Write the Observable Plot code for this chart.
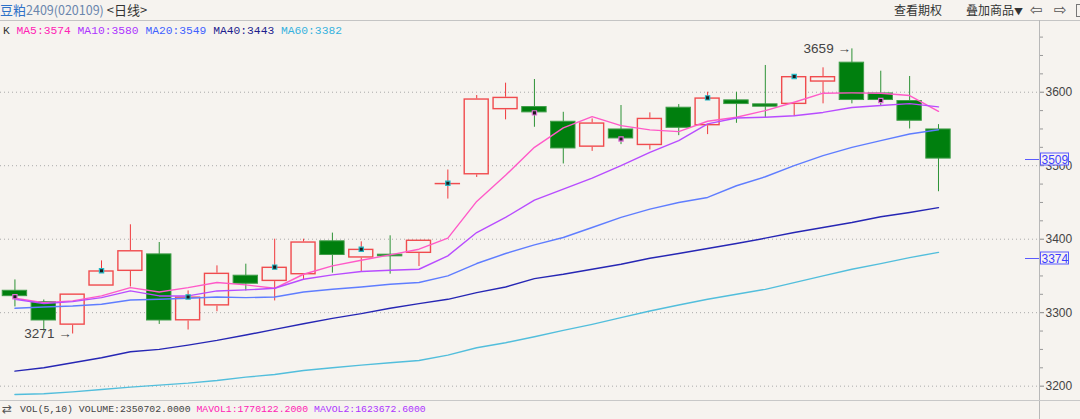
<!DOCTYPE html>
<html><head><meta charset="utf-8">
<script src="https://cdn.jsdelivr.net/npm/d3@7"></script>
<script src="https://cdn.jsdelivr.net/npm/@observablehq/plot@0.6"></script>
<style>
html,body{margin:0;padding:0;background:#f6f3ef;}
#wrap{position:relative;width:1080px;height:419px;overflow:hidden;background:#f6f3ef;}
#hdr{position:absolute;left:0;top:0;width:1080px;height:21px;border-bottom:1px solid #c4c4c4;box-sizing:border-box;}
#title{position:absolute;left:0;top:1px;font-family:"Noto Sans CJK SC";font-size:13px;line-height:18px;white-space:nowrap;}
.tool{position:absolute;top:1px;font-family:"Noto Sans CJK SC";font-size:12px;line-height:18px;color:#333;white-space:nowrap;}
.arrow{position:absolute;top:1px;font-family:"DejaVu Sans";font-size:15px;line-height:18px;color:#555;}
#chart{position:absolute;left:0;top:20px;}
#legend{position:absolute;left:3px;top:24px;font-family:"Liberation Mono";font-size:11.3px;line-height:14px;white-space:pre;}
#vaxis{position:absolute;left:1039px;top:20px;width:1px;height:399px;background:#b8b8b8;}
#ftr{position:absolute;left:0;top:400px;width:1080px;height:19px;border-top:1px solid #c8c8c8;box-sizing:border-box;}
#vol{position:absolute;left:20px;top:403px;font-family:"Liberation Mono";font-size:9.8px;line-height:14px;white-space:pre;color:#444;}
#volicon{position:absolute;left:2px;top:401px;font-family:"DejaVu Sans";font-size:12px;line-height:16px;color:#555;}
</style></head>
<body>
<div id="wrap">
  <div id="hdr"></div>
  <div id="title"></div>
  <div class="tool" style="left:894px">查看期权</div>
  <div class="tool" style="left:966px">叠加商品<span style="font-size:9px">▼</span></div>
  <div class="arrow" style="left:1030px">⇦</div>
  <div class="arrow" style="left:1054px">⇨</div>
  <div style="position:absolute;left:1076px;top:4px;width:8px;height:11px;border:1px solid #777;"></div>
  <div id="chart"></div>
  <div id="vaxis"></div>
  <div id="legend"></div>
  <div id="ftr"></div>
  <div id="volicon">⇄</div>
  <div id="vol"></div>
</div>
<script>
// ---------- data ----------
const titleName = "豆粕";
const titleCode = "2409(020109)";
const titlePeriod = "<日线>";

const open  = [3330.5,3315,3282.8,3336,3356,3380,3288.7,3309,3351,3342.3,3351.4,3397.8,3374.2,3379.6,3380.5,3474,3487.4,3576,3580.5,3560.5,3525,3550,3527.3,3579.6,3554.2,3589.6,3584.2,3583.2,3613.6,3640.9,3599,3588.7,3550];
const high  = [3344.6,3317.3,3325.5,3370.5,3419.6,3395.5,3329.6,3363.7,3366,3400,3400,3408.3,3396.4,3404.6,3398.8,3494.2,3595.5,3612.3,3617.3,3572.7,3563.7,3581.9,3571.9,3583.2,3600,3600,3636.4,3621.4,3633.2,3659,3628.6,3621.4,3555.9];
const low   = [3307.8,3275,3271,3336,3335,3284,3276.4,3301.3,3329.6,3316,3344.6,3353.8,3355.9,3352.4,3362.8,3454.6,3484,3562.4,3552.3,3502.4,3519.5,3528.7,3521.4,3540.9,3542.3,3557.7,3565,3566.9,3584.2,3584.2,3580.5,3550,3464.6];
const close = [3321.8,3288.7,3325.5,3357,3384.5,3288.7,3321.4,3353.8,3338.7,3362,3396.4,3377.8,3386.4,3376,3398.8,3476,3591,3593.2,3571.9,3522.8,3558.3,3536.4,3564.6,3550.9,3592.3,3583.2,3579.6,3621.4,3621.4,3588.7,3588.7,3560.5,3509];

const ma5  = [3319.6,3313.7,3316,3322.8,3334.1,3328.2,3334.1,3341,3337.8,3333.2,3352.3,3363.7,3371.4,3378.7,3386.4,3401.4,3451.4,3487,3525,3551.4,3566.8,3554.6,3548.7,3546.4,3560.5,3566,3575,3586.4,3598.7,3599.1,3598.7,3595.5,3574];
const ma10 = [3318.2,3312.3,3315,3320.5,3329.6,3322.8,3322.8,3329.6,3331,3333.2,3345.5,3351.4,3356,3357.8,3359.1,3377.3,3409.1,3429.6,3453.2,3468.2,3483.2,3500,3518.2,3534.1,3557,3565,3566,3568,3572.5,3579.2,3582,3584.5,3580];
const ma20 = [3306,3307.8,3309.1,3311.4,3317.3,3318.2,3319.6,3321.4,3320.5,3321.4,3328.2,3331.9,3335,3338.7,3341,3350,3366.9,3380.5,3392.3,3402.3,3415.9,3429.6,3440.9,3450,3456.8,3472.7,3485,3500,3513.7,3525,3534.1,3543.2,3549];
const ma40 = [3220.5,3225,3231.8,3238.7,3246.8,3250,3255.9,3262.3,3269.6,3277.3,3285,3292.3,3298.7,3306,3312.3,3318.2,3327.3,3335,3346.4,3352.3,3359.1,3365.9,3374.1,3380.5,3387.3,3394.1,3401.4,3409.1,3415.9,3422.7,3430.5,3436.4,3443];
const ma60 = [3188.7,3189.6,3192.3,3195.5,3198.7,3201.4,3204.1,3207.7,3212.3,3215.9,3221.4,3225,3228.7,3231.8,3235,3242.3,3252.3,3259.1,3267.3,3275.9,3284.1,3293.2,3302.3,3310.5,3318.2,3325,3331.8,3340.9,3350,3359.1,3366.8,3375,3382];

const maNames = ["MA5","MA10","MA20","MA40","MA60"];
const maLast  = [3574,3580,3549,3443,3382];

const signalUp   = [3,6,9,12,15,24,27];   // candle indexes with cyan signal
const signalDown = [0,18,21,30];          // candle indexes with pink signal

const extremeIdx = [2,29];
const extremeVal = [3271,3659];

const sideVals = [3509,3374];

const yTicks = [3200,3300,3400,3500,3600];
const slotCount = 36;

const volNames  = ["VOLUME","MAVOL1","MAVOL2"];
const volValues = ["2350702.0000","1770122.2000","1623672.6000"];

// ---------- styles ----------
const BG = "#f6f3ef";
const RED = "#f0383c";
const GREEN = "#007f0e";
const GREEN_WICK = "#2d9236";
const maColors = ["#ff5ac8","#b84cff","#5f7dff","#2626b4","#52bedc"];
const maTextColors = ["#ff22b4","#ad33ff","#3f62ff","#1e1e8e","#36b2de"];
const volColors = ["#444","#ff22b4","#ad33ff"];

// ---------- header / legend / footer ----------
document.getElementById("title").innerHTML =
  `<span style="color:#2f72c8">${titleName}</span><span style="color:#6a86ad;font-size:12.5px">${titleCode}</span> <span style="color:#333">${titlePeriod.replace(/</g,"&lt;").replace(/>/g,"&gt;")}</span>`;
document.getElementById("legend").innerHTML =
  `<span style="color:#333">K</span>` +
  maNames.map((n,j)=>` <span style="color:${maTextColors[j]}">${n}:${maLast[j]}</span>`).join("");
document.getElementById("vol").innerHTML =
  `<span style="color:#444">VOL(5,10)</span>` +
  volNames.map((n,j)=>` <span style="color:${volColors[j]}">${n}:${volValues[j]}</span>`).join("");

// ---------- chart ----------
const idx = d3.range(open.length);
const rows = idx.map(i => ({i, o: open[i], h: high[i], l: low[i], c: close[i]}));
const up = rows.filter(d => d.c >= d.o);
const dn = rows.filter(d => d.c < d.o);
const maSeries = [ma5, ma10, ma20, ma40, ma60];
const minorTicks = d3.range(3200, 3700, 25).filter(v => v % 100 !== 0);
const annots = extremeIdx.map((i,k) => ({i, v: extremeVal[k]}));

const plot = Plot.plot({
  width: 1080, height: 380,
  marginLeft: 0, marginRight: 41, marginTop: 0, marginBottom: 0,
  style: {background: "transparent", fontFamily: "Liberation Sans", fontSize: "12px", color: "#444", overflow: "visible"},
  x: {type: "band", domain: d3.range(slotCount), paddingInner: 0.12, paddingOuter: 0.06, axis: null},
  y: {domain: [3180.5, 3697.6], label: null},
  marks: [
    Plot.gridY(yTicks, {stroke: "#aaa", strokeOpacity: 1, strokeDasharray: "1,3"}),
    Plot.axisY(minorTicks, {anchor: "right", tickSize: 3, tickFormat: () => "", stroke: "#999", label: null}),
    Plot.axisY(yTicks, {anchor: "right", tickSize: 4, tickPadding: 2, tickFormat: d => String(d), stroke: "#888", fill: "#444", label: null, fontSize: 12}),
    // wicks
    Plot.ruleX(up, {x: "i", y1: "c", y2: "h", stroke: RED, strokeWidth: 1}),
    Plot.ruleX(up, {x: "i", y1: "l", y2: "o", stroke: RED, strokeWidth: 1}),
    Plot.ruleX(dn, {x: "i", y1: "l", y2: "h", stroke: GREEN_WICK, strokeWidth: 1}),
    // bodies
    Plot.barY(up, {x: "i", y1: "o", y2: "c", fill: BG, stroke: RED, strokeWidth: 1.4, strokeOpacity: 0.9, inset: 0.7}),
    Plot.barY(dn, {x: "i", y1: "o", y2: "c", fill: GREEN, stroke: "#3f9d48", strokeWidth: 1, inset: 0.5}),
    // moving averages
    ...maSeries.map((s, j) => Plot.line(idx, {x: i => i, y: i => s[i], stroke: maColors[j], strokeWidth: 1.4})),
    // signals
    Plot.dot(signalUp, {x: i => i, y: i => close[i], symbol: "square", r: 2.4, fill: "#1b1b1b", stroke: "#25b6c4", strokeWidth: 1.2}),
    Plot.dot(signalDown, {x: i => i, y: i => close[i], symbol: "square", r: 2.4, fill: "#1b1b1b", stroke: "#e070d8", strokeWidth: 1.2}),
    // extremes
    Plot.text(annots, {x: "i", y: "v", text: d => `${d.v} →`, textAnchor: "end", dx: -1, fontSize: 13.5, fill: "#444", fontFamily: "Liberation Sans"})
  ]
});
document.getElementById("chart").appendChild(plot);

// right-side value boxes
const ys = plot.scale("y");
const svg = d3.select(plot);
for (const v of sideVals) {
  const y = Math.round(ys.apply(v)) + 0.5;
  svg.append("line").attr("x1", 1025).attr("x2", 1039).attr("y1", y).attr("y2", y).attr("stroke", "#5a5aff");
  svg.append("rect").attr("x", 1040.5).attr("y", y - 6.5).attr("width", 28).attr("height", 12)
     .attr("fill", BG).attr("stroke", "#5a5aff");
  svg.append("text").attr("x", 1041.5).attr("y", y).attr("dy", "0.36em").attr("text-anchor", "start")
     .attr("fill", "#3c3cff").attr("font-size", 12).attr("font-family", "Liberation Sans").text(v);
}
</script>
</body></html>
